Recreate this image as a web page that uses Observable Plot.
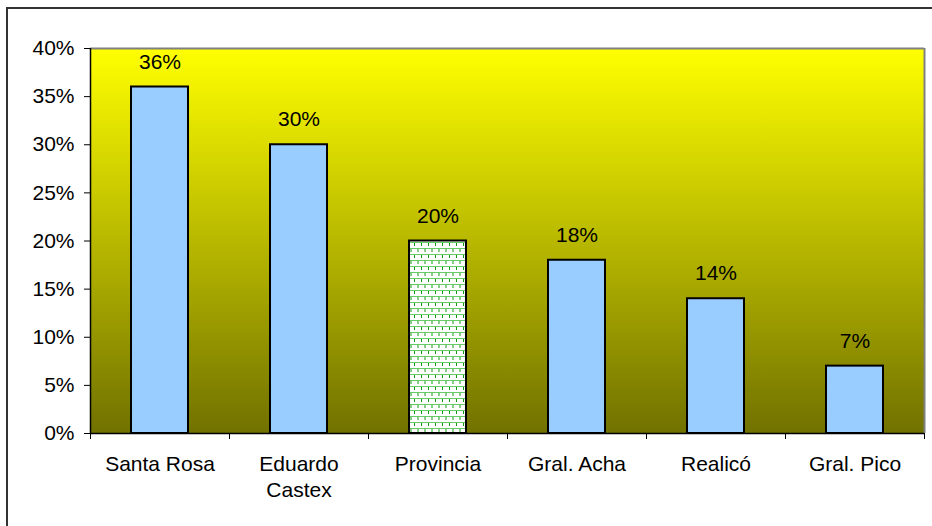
<!DOCTYPE html>
<html>
<head>
<meta charset="utf-8">
<script src="https://cdn.jsdelivr.net/npm/d3@7"></script>
<script src="https://cdn.jsdelivr.net/npm/@observablehq/plot@0.6"></script>
<style>
  html, body { margin: 0; padding: 0; background: #fff; }
  #wrap { position: relative; width: 932px; height: 526px; }
  #frame { position: absolute; left: 6px; top: 7px; right: -4px; bottom: -4px; border-top: 2px solid #333; border-left: 2px solid #333; pointer-events: none; }
  svg { font-family: Arial, "Liberation Sans", sans-serif; }
</style>
</head>
<body>
<div id="wrap"><div id="frame"></div></div>
<script>
const categories = ["Santa Rosa", "Eduardo\nCastex", "Provincia", "Gral. Acha", "Realicó", "Gral. Pico"];
const values = [0.36, 0.30, 0.20, 0.18, 0.14, 0.07];
const valueLabels = ["36%", "30%", "20%", "18%", "14%", "7%"];
const highlighted = [false, false, true, false, false, false];
const yTicks = [0, 0.05, 0.10, 0.15, 0.20, 0.25, 0.30, 0.35, 0.40];

const data = categories.map((c, i) => ({
  i, c, v: values[i], label: valueLabels[i], hl: highlighted[i]
}));
const halfWidth = 0.205;

const chart = Plot.plot({
  width: 932,
  height: 526,
  marginLeft: 90,
  marginRight: 8,
  marginTop: 48,
  marginBottom: 93,
  style: { fontFamily: "Arial, 'Liberation Sans', sans-serif", fontSize: "21px", color: "#000", background: "transparent" },
  x: { type: "linear", domain: [0, categories.length] },
  y: { domain: [0, 0.40] },
  marks: [
    Plot.frame({ fill: "url(#bgGrad)", stroke: "none" }),
    Plot.ruleY([0.40], { stroke: "#808080", strokeWidth: 2 }),
    Plot.ruleX([categories.length], { stroke: "#808080", strokeWidth: 2 }),
    Plot.rectY(data, {
      x1: d => d.i + 0.5 - halfWidth,
      x2: d => d.i + 0.5 + halfWidth,
      y1: 0,
      y2: "v",
      fill: d => d.hl ? "url(#brick)" : "#99CCFF",
      stroke: "#000",
      strokeWidth: 2
    }),
    Plot.text(data, {
      x: d => d.i + 0.5,
      y: "v",
      text: "label",
      dy: -25,
      fontSize: 21,
      fill: "#000"
    }),
    Plot.axisY({
      ticks: yTicks,
      tickFormat: d => Math.round(d * 100) + "%",
      tickSize: 6,
      tickPadding: 10,
      fontSize: 21,
      label: null,
      stroke: "#000"
    }),
    Plot.ruleX([0], { stroke: "#000", strokeWidth: 1.5 }),
    Plot.ruleY([0], { stroke: "#000", strokeWidth: 1.5 }),
    Plot.axisX({
      ticks: d3.range(0, categories.length + 1),
      tickSize: 6,
      tickFormat: () => "",
      label: null,
      stroke: "#000"
    }),
    Plot.text(data, {
      x: d => d.i + 0.5,
      y: 0,
      text: "c",
      dy: 19,
      lineAnchor: "top",
      lineHeight: 1.24,
      fontSize: 21,
      fill: "#000"
    })
  ]
});

const ns = "http://www.w3.org/2000/svg";
const defs = document.createElementNS(ns, "defs");
defs.innerHTML = `
  <linearGradient id="bgGrad" x1="0" y1="0" x2="0" y2="1">
    <stop offset="0" stop-color="#FFFF00"/>
    <stop offset="1" stop-color="#717100"/>
  </linearGradient>
  <pattern id="brick" patternUnits="userSpaceOnUse" width="7" height="12">
    <rect width="7" height="12" fill="#ffffff"/>
    <rect x="0" y="2" width="7" height="1" fill="#66CC66"/>
    <rect x="0" y="8" width="7" height="1" fill="#66CC66"/>
    <rect x="1" y="3" width="1" height="3" fill="#119911"/>
    <rect x="4.5" y="9" width="1" height="3" fill="#119911"/>
  </pattern>`;
chart.insertBefore(defs, chart.firstChild);
chart.style.position = "absolute";
chart.style.left = "0";
chart.style.top = "0";
document.getElementById("wrap").insertBefore(chart, document.getElementById("frame"));
</script>
</body>
</html>
